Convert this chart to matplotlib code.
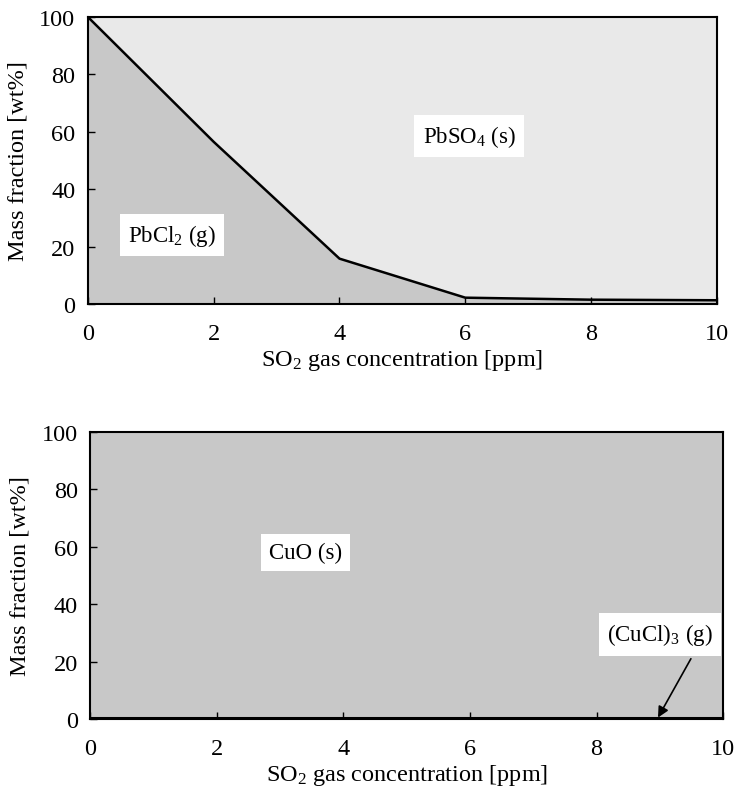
import matplotlib
matplotlib.use("Agg")
import matplotlib.pyplot as plt

plt.rcParams['font.family'] = ['Liberation Serif', 'DejaVu Serif']
plt.rcParams['mathtext.fontset'] = 'custom'
plt.rcParams['mathtext.rm'] = 'Liberation Serif'
plt.rcParams['mathtext.it'] = 'Liberation Serif:italic'

so2 = [0, 2, 4, 6, 8, 10]
pbcl2 = [100, 56.5, 15.8, 2.2, 1.5, 1.3]
cucl3 = [0.4, 0.4, 0.4, 0.4, 0.4, 0.4]
yticks = [0, 20, 40, 60, 80, 100]
xticks = [0, 2, 4, 6, 8, 10]

dark = '#c8c8c8'
light = '#e9e9e9'

fig = plt.figure(figsize=(7.39, 8.12), dpi=100)
ax1 = fig.add_axes([0.119, 0.6244, 0.851, 0.3534])
ax2 = fig.add_axes([0.122, 0.1133, 0.8566, 0.3534])

fs = 17.5
fa = 16.5

def style(ax):
    ax.set_xlim(0, 10)
    ax.set_ylim(0, 100)
    ax.set_xticks(xticks)
    ax.set_yticks(yticks)
    ax.tick_params(direction='in', length=5, width=1, labelsize=fs,
                   top=False, right=False)
    ax.tick_params(axis='x', pad=14)
    ax.tick_params(axis='y', pad=9)
    for s in ax.spines.values():
        s.set_linewidth(1.5)
    ax.set_xlabel('SO$_2$ gas concentration [ppm]', fontsize=fs, labelpad=2)
    ax.set_ylabel('Mass fraction [wt%]', fontsize=fs, labelpad=8)

# top panel
ax1.fill_between(so2, 0, pbcl2, color=dark, lw=0)
ax1.fill_between(so2, pbcl2, 100, color=light, lw=0)
ax1.plot(so2, pbcl2, color='black', lw=1.8)
style(ax1)
bbox = dict(facecolor='white', edgecolor='none', pad=6)
ax1.text(6.06, 58.5, 'PbSO$_4$ (s)', fontsize=fa, ha='center', va='center', bbox=bbox)
ax1.text(1.34, 24.0, 'PbCl$_2$ (g)', fontsize=fa, ha='center', va='center', bbox=bbox)

# bottom panel
ax2.fill_between(so2, 0, cucl3, color=dark, lw=0)
ax2.fill_between(so2, cucl3, 100, color=dark, lw=0)
ax2.plot(so2, cucl3, color='black', lw=2.2)
style(ax2)
ax2.text(3.4, 58, 'CuO (s)', fontsize=fa, ha='center', va='center', bbox=bbox)
ax2.text(9.0, 29.5, '(CuCl)$_3$ (g)', fontsize=fa, ha='center', va='center', bbox=bbox)
ax2.annotate('', xy=(8.97, 0.5), xytext=(9.49, 21),
             arrowprops=dict(arrowstyle='-|>', color='black', lw=1.2,
                             mutation_scale=16, shrinkA=0, shrinkB=0))

fig.savefig('out.png', dpi=100)
